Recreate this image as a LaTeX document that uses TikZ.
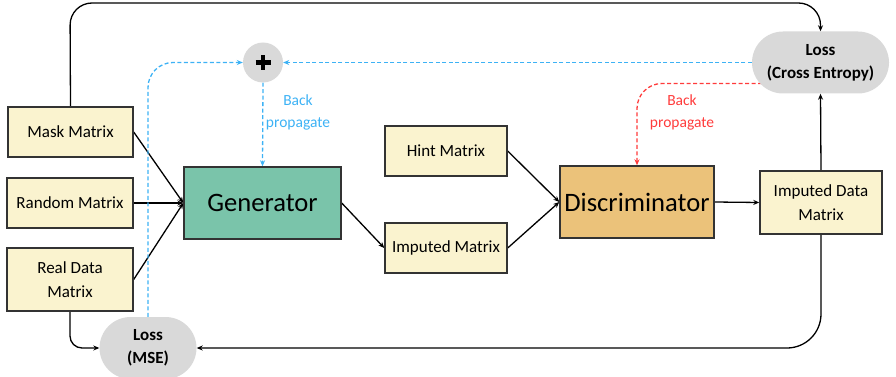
\documentclass[tikz,border=0pt]{standalone}
\usepackage{fontspec}
\setmainfont{Carlito}
\usetikzlibrary{arrows.meta,backgrounds,shapes.misc}
\definecolor{boxfill}{HTML}{FAF3CF}
\definecolor{boxline}{HTML}{333333}
\definecolor{genfill}{HTML}{7AC4AA}
\definecolor{discfill}{HTML}{EBC27A}
\definecolor{lossfill}{HTML}{D9D9D9}
\definecolor{bpblue}{HTML}{3DB2F5}
\definecolor{bpred}{HTML}{FF3B3B}
\tikzset{
  matbox/.style={draw=boxline, line width=1.4pt, fill=boxfill, align=center,
    font=\fontsize{17}{24}\selectfont, inner sep=0pt, minimum width=122pt, minimum height=50pt},
  bigbox/.style={draw=boxline, line width=1.4pt, align=center,
    font=\fontsize{26.6}{30}\selectfont, inner sep=0pt, minimum width=156pt, minimum height=72pt},
  lossnode/.style={rounded rectangle, fill=lossfill, draw=none, align=center,
    font=\bfseries\fontsize{17}{23}\selectfont, inner sep=0pt},
  conn/.style={line width=1.3pt, draw=black, -{Stealth[length=6pt,width=5pt]}},
  bpb/.style={line width=1.3pt, draw=bpblue, dashed, dash pattern=on 4pt off 2.5pt, -{Stealth[length=6pt,width=5pt]}},
  bpr/.style={line width=1.3pt, draw=bpred, dashed, dash pattern=on 4pt off 2.5pt, -{Stealth[length=6pt,width=5pt]}},
  bplabel/.style={align=center, font=\fontsize{15.5}{22}\selectfont, inner sep=0pt}
}
\begin{document}
\begin{tikzpicture}[x=1pt,y=-1pt]
\useasboundingbox (0,0) rectangle (896,377);
% nodes
\node[matbox, minimum width=125pt] (mask) at (70.5,132) {Mask Matrix};
\node[matbox, minimum width=126pt] (rand) at (70,203) {Random Matrix};
\node[matbox, minimum width=126pt, minimum height=63pt] (real) at (70,279.5) {Real Data\\Matrix};
\node[bigbox, fill=genfill, minimum width=157pt] (gen) at (262.5,203) {Generator};
\node[matbox] (hint) at (446,151) {Hint Matrix};
\node[matbox] (imp) at (446,248) {Imputed Matrix};
\node[bigbox, fill=discfill, minimum width=154pt] (disc) at (637,202) {Discriminator};
\node[matbox, minimum height=63pt] (idm) at (821,202.5) {Imputed Data\\Matrix};
\node[lossnode, minimum width=137pt, minimum height=62pt] (lce) at (820.5,62.5) {Loss\\(Cross Entropy)};
\node[lossnode, minimum width=97pt, minimum height=62pt] (lmse) at (148,348) {Loss\\(MSE)};
\node[circle, fill=lossfill, minimum size=40pt, inner sep=0pt] (plus) at (263,62.5) {};
\draw[line width=4.5pt] ([xshift=-7.5pt]plus.center) -- ([xshift=7.5pt]plus.center);
\draw[line width=4.5pt] ([yshift=-7.5pt]plus.center) -- ([yshift=7.5pt]plus.center);
\coordinate (gin) at (gen.west);
\coordinate (din) at (disc.west);
\node[bplabel, text=bpblue] (lblb) at (298,112) {Back\\propagate};
\node[bplabel, text=bpred] (lblr) at (682,112) {Back\\propagate};
% connectors
\begin{scope}[on background layer]
\draw[conn] (mask.east) -- (gin);
\draw[conn] (rand.east) -- (gin);
\draw[conn] (real.east) -- (gin);
\draw[conn] (gen.east) -- (imp.west);
\draw[conn] (hint.east) -- (din);
\draw[conn] (imp.east) -- (din);
\draw[conn] (disc.east) -- (idm.west);
\draw[conn] (idm.north) -- (lce.south);
\draw[conn, rounded corners=22pt] (mask.north) -- (70,3) -| (lce.north);
\draw[conn, rounded corners=34pt] (idm.south) |- (lmse.east);
\draw[conn, rounded corners=12pt] (real.south) |- (lmse.west);
\draw[bpb, rounded corners=25pt] (lmse.north) |- (plus.west);
\draw[bpb] (lce.west) -- (plus.east);
\draw[bpb] (plus.south) -- (gen.north);
\draw[bpr, rounded corners=25pt] ([yshift=-21pt]lce.center) -| (disc.north);
\end{scope}
\end{tikzpicture}
\end{document}
